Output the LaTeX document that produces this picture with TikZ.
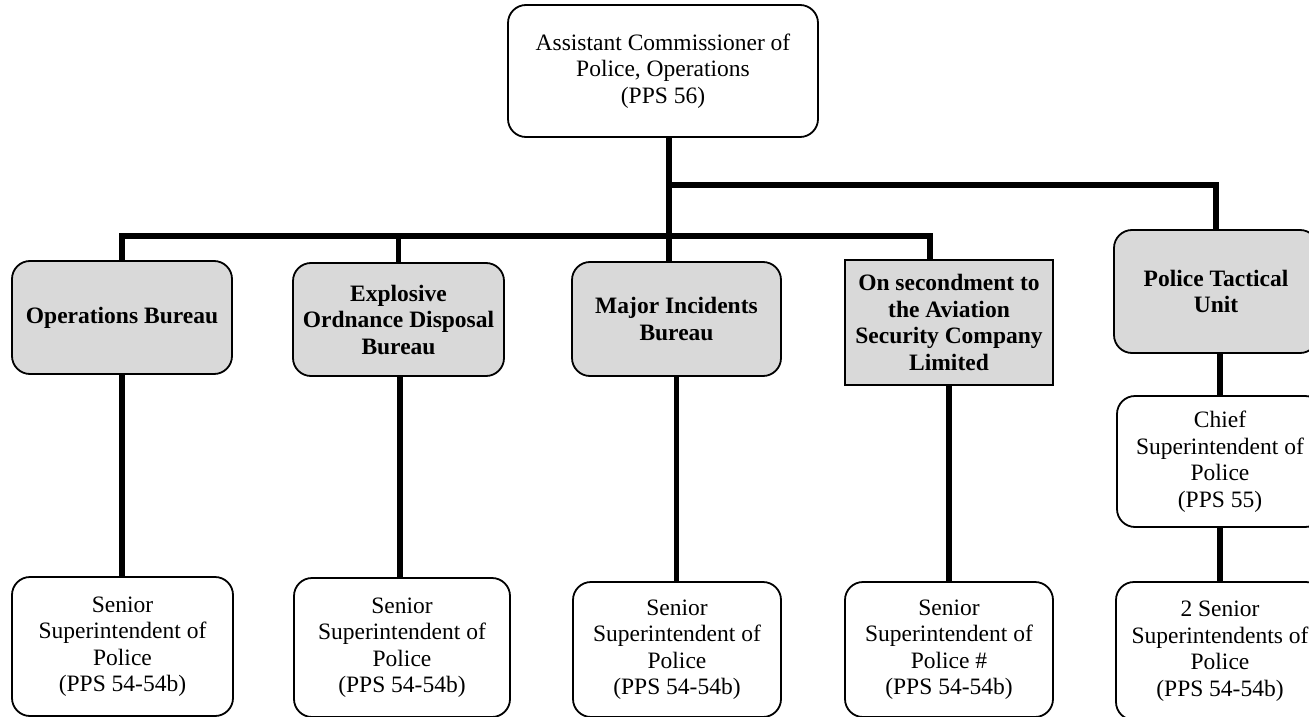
\documentclass[tikz,border=0pt]{standalone}
\usepackage{fontspec}
\setmainfont{Liberation Serif}
\definecolor{unitgray}{HTML}{D9D9D9}
\begin{document}
\begin{tikzpicture}[x=1pt,y=-1pt,
  box/.style={draw, line width=1.8pt, rounded corners=18pt, align=center,
    inner sep=0pt, font=\fontsize{23.5}{26.5}\selectfont},
  unit/.style={box, fill=unitgray, font=\bfseries\fontsize{23.5}{26.5}\selectfont},
  flatunit/.style={unit, rounded corners=0pt},
  link/.style={line width=5.5pt, line join=miter}]
\useasboundingbox (0,0) rectangle (1309,717);

% head of the branch
\node[box, minimum width=310pt, minimum height=132pt] (acp) at (663,71)
  {Assistant Commissioner of\\Police, Operations\\(PPS 56)};

% units
\node[unit, minimum width=220pt, minimum height=113pt] (ops) at (122,317.5)
  {Operations Bureau};
\node[unit, minimum width=211pt, minimum height=113pt] (eod) at (398.5,319.5)
  {Explosive\\Ordnance Disposal\\Bureau};
\node[unit, minimum width=209pt, minimum height=114pt] (mib) at (676.5,319)
  {Major Incidents\\Bureau};
\node[flatunit, minimum width=208pt, minimum height=125pt] (asc) at (949,322.5)
  {On secondment to\\the Aviation\\Security Company\\Limited};
\node[unit, minimum width=204pt, minimum height=123pt] (ptu) at (1216,291.5)
  {Police Tactical\\Unit};

% officers in charge
\node[box, minimum width=206pt, minimum height=131pt] (csp) at (1220,461.5)
  {Chief\\Superintendent of\\Police\\(PPS 55)};
\node[box, minimum width=221pt, minimum height=139pt] (ss1) at (122.5,646.5)
  {Senior\\Superintendent of\\Police\\(PPS 54-54b)};
\node[box, minimum width=216pt, minimum height=139pt] (ss2) at (402,647.5)
  {Senior\\Superintendent of\\Police\\(PPS 54-54b)};
\node[box, minimum width=208pt, minimum height=135pt] (ss3) at (677,649.5)
  {Senior\\Superintendent of\\Police\\(PPS 54-54b)};
\node[box, minimum width=208pt, minimum height=135pt] (ss4) at (949,649.5)
  {Senior\\Superintendent of\\Police \#\\(PPS 54-54b)};
\node[box, minimum width=208pt, minimum height=138pt] (ss5) at (1220,651)
  {2 Senior\\Superintendents of\\Police\\(PPS 54-54b)};

% connector routing points
\coordinate (trunk) at (669,185);
\coordinate (busL) at (123,236);
\coordinate (busR) at (930,236);

% trunk and the two buses
\draw[link] (acp.south -| trunk) -- (mib.north -| trunk);
\draw[link] (trunk) -| (ptu.north);
\draw[link] (ops.north) |- (busR) -- (asc.north -| busR);
\draw[link] (eod.north) -- (eod.north |- busL);

% unit to officer
\draw[link] (ops.south) -- (ss1.north -| ops.south);
\draw[link] ([xshift=1.5pt]eod.south) -- ([xshift=1.5pt]eod.south |- ss2.north);
\draw[link] (mib.south) -- (ss3.north -| mib.south);
\draw[link] (asc.south) -- (ss4.north);
\draw[link] (csp.north |- ptu.south) -- (csp.north);
\draw[link] (csp.south) -- (ss5.north);
\end{tikzpicture}
\end{document}
